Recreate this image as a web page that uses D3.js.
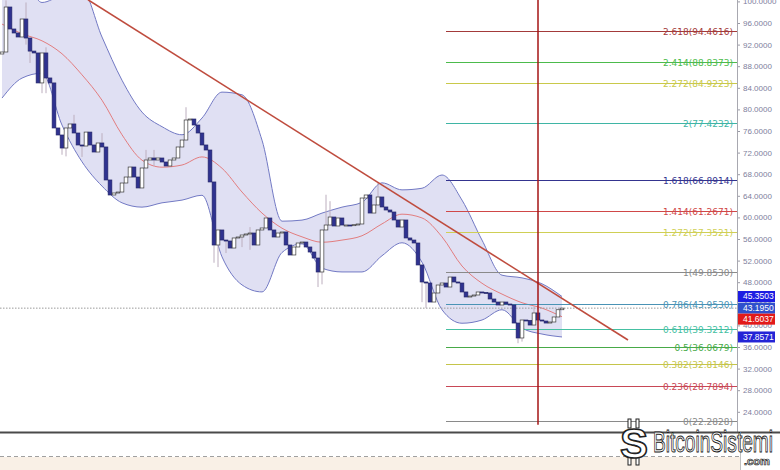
<!DOCTYPE html>
<meta charset="utf-8">
<style>
body { margin: 0; background: #fff; }
svg { display: block; font-family: "Liberation Sans", Arial, sans-serif; }
</style>
<body>
<script src="https://cdn.jsdelivr.net/npm/d3@7"></script>
<script>

// chart frame
var width = 780, height = 470,
    plotRight = 737, plotBottom = 432;

// candles: each opens at the previous close
var firstOpen = 90.26;
var closes = [
  90.63, 98.96, 94.89, 94.15, 93.41, 96.74, 93.22, 90.80, 90.45, 84.90,
  90.45, 85.82, 84.90, 76.56, 75.26, 72.85, 76.56, 77.30, 75.63, 73.41,
  73.22, 75.80, 73.41, 72.11, 73.78, 73.04, 66.93, 64.15, 64.52, 64.70,
  66.37, 67.48, 69.33, 67.48, 65.45, 69.15, 70.63, 71.00, 70.63, 71.00,
  70.26, 69.52, 70.63, 71.00, 73.04, 74.33, 78.04, 78.22, 77.11, 75.63,
  73.41, 72.48, 66.56, 54.89, 57.67, 55.81, 55.63, 54.33, 56.19, 56.37,
  56.74, 56.93, 57.11, 54.89, 57.67, 58.04, 59.89, 57.67, 56.37, 57.11,
  57.30, 54.89, 53.04, 54.52, 55.26, 55.44, 54.52, 53.59, 52.48, 49.89,
  57.67, 58.59, 60.07, 58.41, 59.89, 58.59, 58.59, 58.50, 58.65, 58.78,
  63.59, 64.15, 60.81, 62.30, 63.78, 61.93, 61.37, 61.00, 59.52, 58.22,
  59.52, 56.19, 55.81, 55.26, 51.19, 48.04, 47.85, 44.33, 46.00, 47.48,
  47.85, 47.11, 48.96, 48.04, 47.85, 46.19, 45.26, 45.44, 45.63, 46.19,
  46.10, 46.00, 44.89, 44.33, 43.78, 44.33, 43.96, 43.78, 40.44, 37.67,
  41.00, 40.90, 40.07, 42.30, 41.00, 40.81, 40.44, 40.63, 41.56, 42.90,
  43.20
];
// [candle, high, low] where a shadow shows past the body
var wicks = [
  [1, 100.2, null], [6, 99.8, 92.0], [7, null, 88.6], [10, null, 83.0],
  [11, 91.5, 83.0], [15, null, 71.6], [16, null, 71.3], [18, 79.0, null],
  [20, null, 71.2], [25, 75.6, null], [36, 72.5, null], [38, 72.5, 69.5],
  [46, 80.4, null], [53, null, 51.6], [54, null, 50.8], [56, null, 53.4],
  [60, null, 54.5], [62, 58.2, 54.0], [79, null, 47.1], [80, null, 47.6],
  [81, 64.2, null], [82, 63.0, null], [94, 66.4, null], [105, null, 44.3],
  [106, null, 43.2], [129, null, 36.7], [130, null, 37.0], [133, 43.5, null]
];

// bollinger bands, read every 5 candles
var bandIdx   = [0, 5, 10, 15, 20, 25, 30, 35, 40, 45, 50, 55, 60, 65, 70,
                 75, 80, 85, 90, 95, 100, 105, 110, 115, 120, 125, 130, 135, 140];
var bandUpper = [105.0, 104.5, 99.8, 101.2, 102.1, 93.4, 85.4, 79.5, 76.8, 75.3,
                 78.4, 83.2, 82.7, 74.3, 59.3, 59.5, 60.8, 61.9, 62.8, 66.4,
                 65.1, 65.4, 67.85, 63.2, 55.8, 49.3, 48.8, 47.7, 45.35];
var bandMid   = [95.8, 94.0, 92.7, 90.3, 86.4, 81.7, 75.3, 70.6, 69.3, 69.7,
                 71.2, 69.1, 64.7, 60.8, 58.0, 56.4, 55.4, 55.8, 56.6, 58.8,
                 60.6, 59.9, 56.4, 51.0, 47.8, 45.8, 44.2, 43.2, 41.6];
var bandLower = [82.1, 85.8, 86.7, 77.1, 70.3, 65.8, 62.7, 61.9, 62.7, 63.2,
                 64.1, 52.7, 47.5, 46.2, 53.5, 55.1, 50.6, 49.9, 49.9, 52.9,
                 55.3, 51.7, 42.9, 40.4, 41.0, 42.9, 39.5, 38.4, 37.86];

// fibonacci levels
var fibRatios = ["2.618", "2.414", "2.272", "2", "1.618", "1.414", "1.272",
                 "1", "0.786", "0.618", "0.5", "0.382", "0.236", "0"];
var fibPrices = [94.4616, 88.8373, 84.9223, 77.4232, 66.8914, 61.2671, 57.3521,
                 49.8530, 43.9530, 39.3212, 36.0679, 32.8146, 28.7894, 22.2828];
var fibColors = ["#a33a3a", "#4cbb4c", "#c9c94a", "#3fb5a5", "#34348f", "#d04848", "#cfcf55",
                 "#8a8a8a", "#4a93b5", "#45c0a2", "#48aa48", "#c5c54a", "#c84856", "#8a8a8a"];
var fibStart = 111;

// drawn objects: trend line and time marker
var trendLine = [[21.5, 100.3], [156.5, 37.3]];
var markerIndex = 134, markerTop = 100.3, markerBottom = 21.6;

// price scale
var yTicks = [24, 28, 32, 36, 40, 44, 48, 52, 56, 60, 64, 68, 72, 76, 80, 84, 88, 92, 96, 100];
var lastPrice = 43.1950;
var boxValues = [45.3503, 43.1950, 41.6037, 37.8571];
var boxColors = ["#1d1de2", "#3050cc", "#e21a1a", "#2424d6"];

var x = d3.scaleLinear().domain([0, 140]).range([2, 562]);
var y = d3.scaleLinear().domain([24, 96]).range([411.8, 23]);

var svg = d3.select("body").append("svg")
    .attr("width", width)
    .attr("height", height);

svg.append("defs").append("clipPath").attr("id", "plot")
  .append("rect").attr("width", plotRight).attr("height", plotBottom);

var plot = svg.append("g").attr("clip-path", "url(#plot)");

// bands
var bands = bandIdx.map(function(k, i) {
  return {k: k, u: bandUpper[i], m: bandMid[i], l: bandLower[i]};
});

plot.append("path")
    .datum(bands)
    .attr("fill", "#dadaf1")
    .attr("fill-opacity", 0.85)
    .attr("d", d3.area().curve(d3.curveMonotoneX)
      .x(function(d) { return x(d.k); })
      .y0(function(d) { return y(d.l); })
      .y1(function(d) { return y(d.u); }));

["u", "l"].forEach(function(key) {
  plot.append("path")
      .datum(bands)
      .attr("fill", "none")
      .attr("stroke", "#7279c4")
      .attr("stroke-width", 1)
      .attr("d", d3.line().curve(d3.curveMonotoneX)
        .x(function(d) { return x(d.k); })
        .y(function(d) { return y(d[key]); }));
});

plot.append("path")
    .datum(bands)
    .attr("fill", "none")
    .attr("stroke", "#e27272")
    .attr("stroke-width", 0.9)
    .attr("d", d3.line().curve(d3.curveMonotoneX)
      .x(function(d) { return x(d.k); })
      .y(function(d) { return y(d.m); }));

// current price dotted line
plot.append("line")
    .attr("x1", 0).attr("x2", plotRight)
    .attr("y1", y(lastPrice)).attr("y2", y(lastPrice))
    .attr("stroke", "#9a9a9a")
    .attr("stroke-dasharray", "1.5,1.5");

// fib lines
var fibs = fibRatios.map(function(r, i) {
  return {r: r, p: fibPrices[i], c: fibColors[i]};
});

plot.selectAll(".fib").data(fibs).enter().append("line")
    .attr("x1", x(fibStart)).attr("x2", plotRight)
    .attr("y1", function(d) { return Math.round(y(d.p)) + 0.5; })
    .attr("y2", function(d) { return Math.round(y(d.p)) + 0.5; })
    .attr("stroke", function(d) { return d.c; })
    .attr("stroke-width", 1);

// candles
var candles = closes.map(function(c, i) {
  var o = i ? closes[i - 1] : firstOpen;
  return {i: i, o: o, c: c, h: Math.max(o, c), l: Math.min(o, c)};
});
wicks.forEach(function(w) {
  if (w[1] != null) candles[w[0]].h = w[1];
  if (w[2] != null) candles[w[0]].l = w[2];
});

var bw = 3.7;

plot.selectAll(".wick").data(candles).enter().append("line")
    .attr("x1", function(d) { return x(d.i); })
    .attr("x2", function(d) { return x(d.i); })
    .attr("y1", function(d) { return y(d.h); })
    .attr("y2", function(d) { return y(d.l); })
    .attr("stroke", "#bcaebe")
    .attr("stroke-width", 1);

plot.selectAll(".body").data(candles).enter().append("rect")
    .attr("x", function(d) { return x(d.i) - bw / 2; })
    .attr("y", function(d) { return y(Math.max(d.o, d.c)); })
    .attr("width", bw)
    .attr("height", function(d) { return Math.max(1, Math.abs(y(d.o) - y(d.c))); })
    .attr("fill", function(d) { return d.c >= d.o ? "#ffffff" : "#2f3290"; })
    .attr("stroke", function(d) { return d.c >= d.o ? "#3a3a3a" : "#23256a"; })
    .attr("stroke-width", 0.7);

// trend line
plot.append("line")
    .attr("x1", x(trendLine[0][0])).attr("y1", y(trendLine[0][1]))
    .attr("x2", x(trendLine[1][0])).attr("y2", y(trendLine[1][1]))
    .attr("stroke", "#bf4c3e")
    .attr("stroke-width", 1.6);

// vertical marker
plot.append("line")
    .attr("x1", x(markerIndex)).attr("x2", x(markerIndex))
    .attr("y1", y(markerTop)).attr("y2", y(markerBottom))
    .attr("stroke", "#a51414")
    .attr("stroke-width", 1.5);

// fib labels
plot.selectAll(".fibLabel").data(fibs).enter().append("text")
    .attr("x", plotRight - 4)
    .attr("y", function(d) { return Math.round(y(d.p)) + 0.5; })
    .attr("dy", "0.35em")
    .attr("text-anchor", "end")
    .attr("font-family", "DejaVu Sans, sans-serif")
    .attr("font-size", "9px")
    .attr("fill", function(d) { return d.c; })
    .text(function(d) { return d.r + "(" + d.p.toFixed(4) + ")"; });

// price axis
var axis = svg.append("g")
    .attr("transform", "translate(" + plotRight + ",0)")
    .call(d3.axisRight(y).tickValues(yTicks).tickSize(3).tickFormat(d3.format(".4f")));
axis.select(".domain").remove();
axis.selectAll("line").attr("stroke", "#9a9aa6");
axis.selectAll("text")
    .attr("fill", "#7e7e9c")
    .attr("font-family", "Liberation Sans, Arial, sans-serif")
    .attr("font-size", "8px");

svg.append("line")
    .attr("x1", plotRight + 0.5).attr("x2", plotRight + 0.5)
    .attr("y1", 0).attr("y2", plotBottom)
    .attr("stroke", "#a8a8b0");

// price boxes, pushed down so they do not overlap
var boxes = boxValues.map(function(v, i) { return {v: v, c: boxColors[i], y: y(v)}; });
boxes.sort(function(a, b) { return a.y - b.y; });
for (var i = 1; i < boxes.length; i++) {
  if (boxes[i].y - boxes[i - 1].y < 11) boxes[i].y = boxes[i - 1].y + 11;
}

var box = svg.selectAll(".box").data(boxes).enter().append("g")
    .attr("transform", function(d) { return "translate(" + (plotRight + 1) + "," + (d.y - 5.5) + ")"; });
box.append("rect")
    .attr("width", 37).attr("height", 11)
    .attr("fill", function(d) { return d.c; });
box.append("text")
    .attr("x", 5).attr("y", 5.5).attr("dy", "0.35em")
    .attr("fill", "#fff")
    .attr("font-size", "8.5px")
    .text(function(d) { return d.v.toFixed(4); });

// bottom frame
svg.append("line")
    .attr("x1", 0).attr("x2", width)
    .attr("y1", plotBottom + 0.5).attr("y2", plotBottom + 0.5)
    .attr("stroke", "#4a4a4a")
    .attr("stroke-width", 2);
svg.append("rect")
    .attr("x", 0).attr("y", 457).attr("width", 740).attr("height", 13)
    .attr("fill", "#f9f0e6");
svg.append("line")
    .attr("x1", 0).attr("x2", 740)
    .attr("y1", 456.5).attr("y2", 456.5)
    .attr("stroke", "#a0a0a0")
    .attr("stroke-dasharray", "4,3");
svg.append("line")
    .attr("x1", 740.5).attr("x2", 740.5)
    .attr("y1", plotBottom).attr("y2", height)
    .attr("stroke", "#c0c0c0");

// watermark
var wm = svg.append("g");
[[628, 419], [636, 419], [628, 456], [636, 456]].forEach(function(p) {
  wm.append("rect").attr("x", p[0]).attr("y", p[1]).attr("width", 3).attr("height", 9)
      .attr("fill", "#fff").attr("stroke", "#222");
});
wm.append("text")
    .attr("x", 634).attr("y", 458)
    .attr("text-anchor", "middle")
    .attr("font-size", "42px")
    .attr("font-weight", "bold")
    .attr("fill", "#fff")
    .attr("stroke", "#222")
    .attr("stroke-width", 1.6)
    .text("S");
wm.append("text")
    .attr("x", 653).attr("y", 452)
    .attr("font-size", "30px")
    .attr("textLength", 120)
    .attr("lengthAdjust", "spacingAndGlyphs")
    .attr("fill", "#fff")
    .attr("stroke", "#222")
    .attr("stroke-width", 1)
    .text("BitcoinSistemi");
wm.append("text")
    .attr("x", 744).attr("y", 465)
    .attr("font-size", "11px")
    .attr("font-weight", "bold")
    .attr("textLength", 26)
    .attr("lengthAdjust", "spacingAndGlyphs")
    .attr("fill", "#fff")
    .attr("stroke", "#222")
    .attr("stroke-width", 0.7)
    .text(".com");

</script>
</body>
